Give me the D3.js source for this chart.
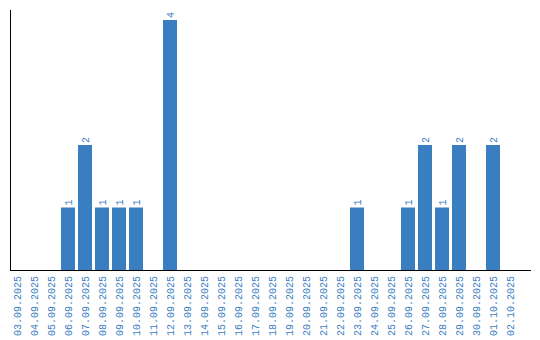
<!DOCTYPE html>
<html><head><meta charset="utf-8">
<script src="https://cdn.jsdelivr.net/npm/d3@7"></script>
<style>body{margin:0;background:#fff}svg{display:block}</style>
</head><body>
<script>
const categories = ["03.09.2025","04.09.2025","05.09.2025","06.09.2025","07.09.2025","08.09.2025","09.09.2025","10.09.2025","11.09.2025","12.09.2025","13.09.2025","14.09.2025","15.09.2025","16.09.2025","17.09.2025","18.09.2025","19.09.2025","20.09.2025","21.09.2025","22.09.2025","23.09.2025","24.09.2025","25.09.2025","26.09.2025","27.09.2025","28.09.2025","29.09.2025","30.09.2025","01.10.2025","02.10.2025"];
const values = [0,0,0,1,2,1,1,1,0,4,0,0,0,0,0,0,0,0,0,0,1,0,0,1,2,1,2,0,2,0];

const W = 540, H = 340, blue = "#3a7ec2";
const svg = d3.select("body").append("svg").attr("width", W).attr("height", H);
const x = d3.scaleBand().domain(categories).range([10, 517]).paddingInner(3/17).paddingOuter(0);
const y = d3.scaleLinear().domain([0, 4]).range([270, 20]);
const data = categories.map((c, i) => ({c, v: values[i]}));

svg.selectAll("rect.bar").data(data.filter(d => d.v > 0)).join("rect")
  .attr("x", d => x(d.c)).attr("y", d => y(d.v))
  .attr("width", x.bandwidth()).attr("height", d => y(0) - y(d.v))
  .attr("fill", blue);

svg.selectAll("text.val").data(data.filter(d => d.v > 0)).join("text")
  .attr("transform", d => `translate(${x(d.c) + x.bandwidth()/2 + 3.5},${y(d.v) - 2}) rotate(-90)`)
  .attr("font-family", "Liberation Mono").attr("font-size", 10).attr("fill", blue)
  .text(d => d.v);

svg.selectAll("text.cat").data(categories).join("text")
  .attr("transform", d => `translate(${x(d) + x.bandwidth()/2 + 3.5},${276}) rotate(-90)`)
  .attr("text-anchor", "end")
  .attr("font-family", "Liberation Mono").attr("font-size", 10).attr("fill", blue)
  .text(d => d);

svg.append("line").attr("x1", 10.5).attr("x2", 10.5).attr("y1", 10).attr("y2", 270.5).attr("stroke", "#000");
svg.append("line").attr("x1", 10).attr("x2", 531).attr("y1", 270.5).attr("y2", 270.5).attr("stroke", "#000");
</script>
</body></html>
